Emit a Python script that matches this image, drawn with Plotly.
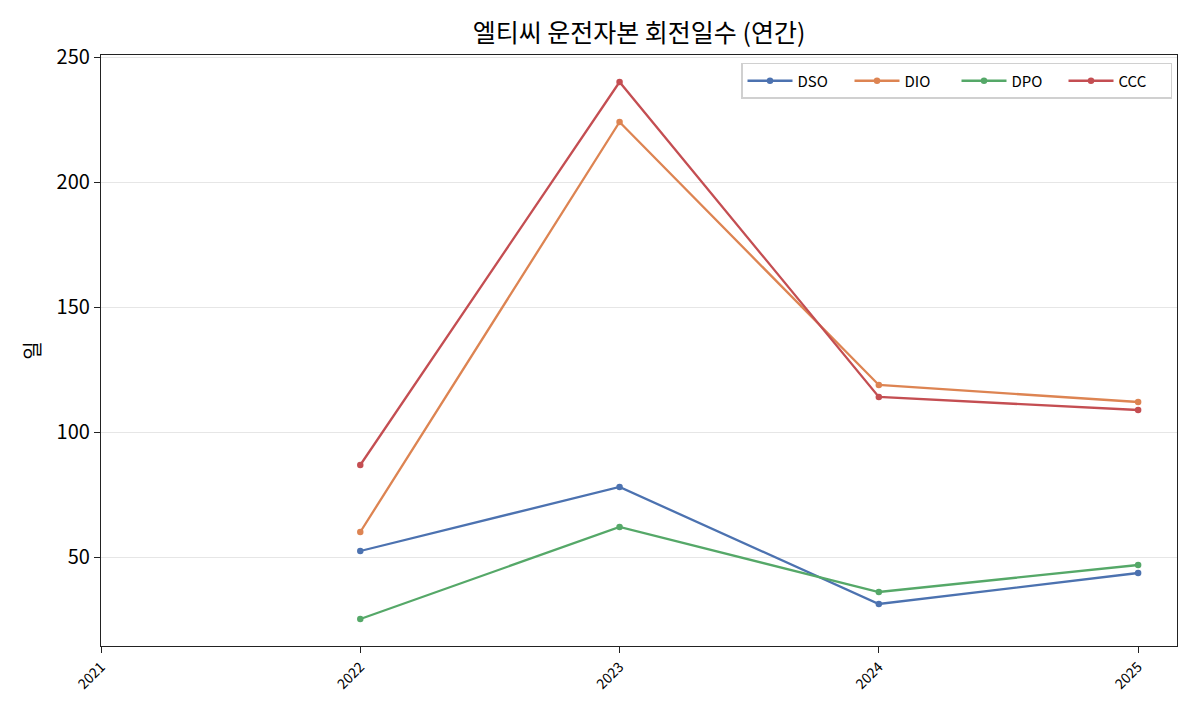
import plotly.graph_objects as go

years = [2022, 2023, 2024, 2025]
dso = [52.4, 78.0, 31.2, 43.6]
dio = [60.0, 224.0, 118.8, 112.0]
dpo = [25.2, 62.0, 36.0, 46.8]
ccc = [86.8, 240.0, 114.0, 108.8]

x_ticks = [2021, 2022, 2023, 2024, 2025]
y_ticks = [50, 100, 150, 200, 250]

series = [
    ("DSO", dso, "#4C72B0"),
    ("DIO", dio, "#DD8452"),
    ("DPO", dpo, "#55A868"),
    ("CCC", ccc, "#C44E52"),
]

fig = go.Figure()
for name, vals, color in series:
    fig.add_trace(
        go.Scatter(
            x=years,
            y=vals,
            name=name,
            mode="lines+markers",
            line=dict(color=color, width=2.3),
            marker=dict(color=color, size=6.5),
        )
    )

axis_common = dict(
    showline=True,
    linecolor="#222",
    linewidth=1.3,
    mirror=True,
    ticks="outside",
    ticklen=6,
    tickwidth=1.3,
    tickcolor="#222",
    zeroline=False,
)

fig.update_layout(
    width=1200,
    height=720,
    paper_bgcolor="white",
    plot_bgcolor="white",
    font=dict(family="Noto Sans CJK KR", color="black"),
    title=dict(
        text="엘티씨 운전자본 회전일수 (연간)",
        x=0.5,
        xref="paper",
        xanchor="center",
        y=0.954,
        yanchor="middle",
        font=dict(size=25),
    ),
    margin=dict(l=101, r=23, t=55, b=74),
    showlegend=True,
    legend=dict(
        orientation="h",
        x=0.5948,
        xanchor="left",
        y=0.9865,
        yanchor="top",
        bordercolor="#d0d0d0",
        borderwidth=1.5,
        bgcolor="rgba(255,255,255,0.8)",
        font=dict(size=15),
        itemwidth=45,
        entrywidth=47,
    ),
    xaxis=dict(
        range=[2021, 2025.15],
        tickvals=x_ticks,
        ticktext=[str(t) for t in x_ticks],
        tickangle=-45,
        tickfont=dict(size=14),
        showgrid=False,
        **axis_common,
    ),
    yaxis=dict(
        range=[14.4, 250.8],
        tickvals=y_ticks,
        tickfont=dict(size=20),
        showgrid=True,
        gridcolor="#e6e6e6",
        gridwidth=1,
        title=dict(text="일", font=dict(size=20), standoff=10),
        **axis_common,
    ),
)

fig.write_html(
    "out.html",
    config={"displayModeBar": False},
    post_script="document.body.style.margin='0';",
)
